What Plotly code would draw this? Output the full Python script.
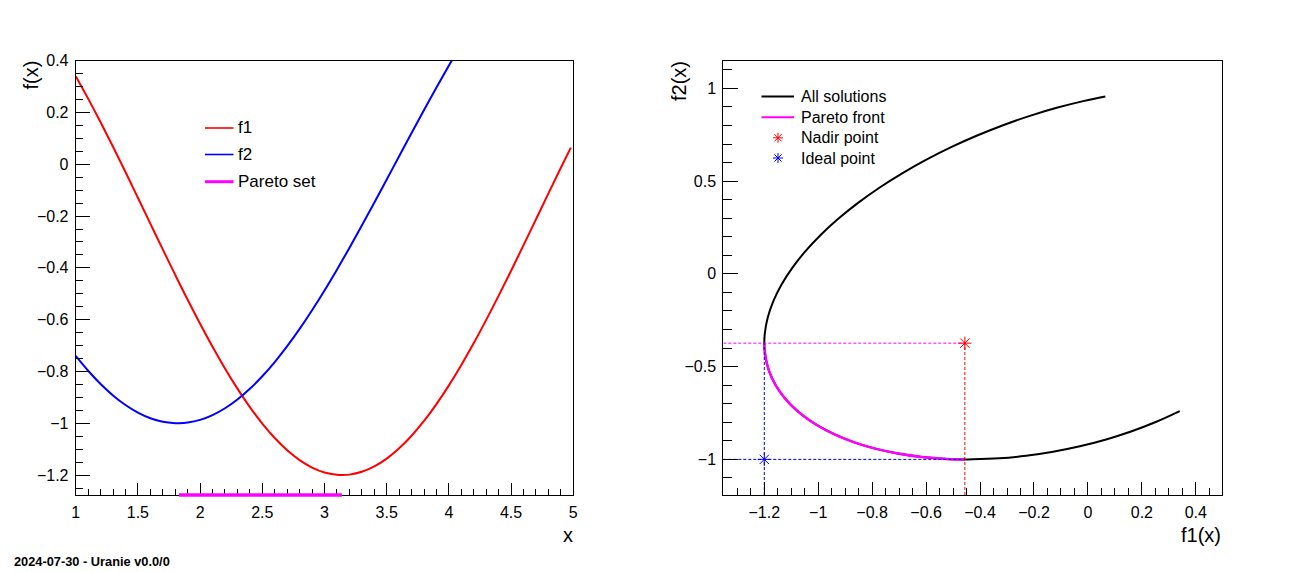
import plotly.graph_objects as go

# ---- data ----
x_vals = [1.0, 1.1, 1.2, 1.3, 1.4, 1.5, 1.6, 1.7, 1.8, 1.83, 1.9, 2.0, 2.1, 2.2, 2.3, 2.4,
          2.5, 2.6, 2.7, 2.8, 2.9, 3.0, 3.1, 3.14, 3.2, 3.3, 3.4, 3.5, 3.6, 3.7, 3.8, 3.9,
          4.0, 4.1, 4.2, 4.3, 4.4, 4.5, 4.6, 4.7, 4.8, 4.9, 4.98]
f1_vals = [0.3403, 0.2536, 0.1624, 0.0675, -0.0300, -0.1293, -0.2292, -0.3288, -0.4272, -0.4563,
           -0.5233, -0.6161, -0.7048, -0.7885, -0.8663, -0.9374, -1.0011, -1.0569, -1.1041, -1.1422,
           -1.1710, -1.1900, -1.1991, -1.2000, -1.1983, -1.1875, -1.1668, -1.1365, -1.0968, -1.0481,
           -0.9910, -0.9259, -0.8536, -0.7748, -0.6903, -0.6008, -0.5073, -0.4108, -0.3122, -0.2124,
           -0.1125, -0.0135, 0.0644]
f2_vals = [-0.7399, -0.7973, -0.8483, -0.8925, -0.9294, -0.9588, -0.9805, -0.9942, -0.9998, -1.0000,
           -0.9974, -0.9869, -0.9684, -0.9421, -0.9081, -0.8668, -0.8185, -0.7636, -0.7025, -0.6357,
           -0.5637, -0.4872, -0.4068, -0.3736, -0.3232, -0.2366, -0.1484, -0.0588, 0.0312, 0.1210,
           0.2098, 0.2967, 0.3812, 0.4630, 0.5405, 0.6143, 0.6829, 0.7457, 0.8026, 0.8531,
           0.8963, 0.9325, 0.9562]

left_legend = ["f1", "f2", "Pareto set"]
right_legend = ["All solutions", "Pareto front", "Nadir point", "Ideal point"]
footer_text = "2024-07-30 - Uranie v0.0/0"

# Pareto set: between the minimum of f2 and the minimum of f1
x_lo = x_vals[f2_vals.index(min(f2_vals))]
x_hi = x_vals[f1_vals.index(min(f1_vals))]
idx = [i for i, x in enumerate(x_vals) if x_lo <= x <= x_hi]
front_f1 = [f1_vals[i] for i in idx]
front_f2 = [f2_vals[i] for i in idx]
nadir = (max(front_f1), max(front_f2))
ideal = (min(front_f1), min(front_f2))

# ---- layout geometry ----
W, H = 1296, 572
FONT = "Liberation Sans, Arial, Helvetica, sans-serif"
xl_range = [1, 5]
yl_range = [-1.277, 0.4]
xr_range = [-1.352, 0.496]
yr_range = [-1.192, 1.149]
dom_y = [1 - 495 / H, 1 - 60.7 / H]
dom_xl = [75.7 / W, 573.3 / W]
dom_xr = [723.3 / W, 1221.7 / W]

fig = go.Figure()

# left panel
fig.add_trace(go.Scatter(x=x_vals, y=f1_vals, mode="lines", line=dict(color="#ff0000", width=2, shape="spline"),
                         xaxis="x", yaxis="y", showlegend=False))
fig.add_trace(go.Scatter(x=x_vals, y=f2_vals, mode="lines", line=dict(color="#0000ff", width=2, shape="spline"),
                         xaxis="x", yaxis="y", showlegend=False))

# right panel
fig.add_trace(go.Scatter(x=f1_vals, y=f2_vals, mode="lines", line=dict(color="black", width=2, shape="spline"),
                         xaxis="x2", yaxis="y2", showlegend=False))
fig.add_trace(go.Scatter(x=front_f1, y=front_f2, mode="lines", line=dict(color="#ff00ff", width=2.5, shape="spline"),
                         xaxis="x2", yaxis="y2", showlegend=False))

dash = "3px,2px"
fig.add_trace(go.Scatter(x=[xr_range[0], nadir[0]], y=[nadir[1], nadir[1]], mode="lines",
                         line=dict(color="#ff00ff", width=1, dash=dash), xaxis="x2", yaxis="y2", showlegend=False))
fig.add_trace(go.Scatter(x=[nadir[0], nadir[0]], y=[yr_range[0], nadir[1]], mode="lines",
                         line=dict(color="#ff0000", width=1, dash=dash), xaxis="x2", yaxis="y2", showlegend=False))
fig.add_trace(go.Scatter(x=[xr_range[0], nadir[0]], y=[ideal[1], ideal[1]], mode="lines",
                         line=dict(color="#0000cc", width=1, dash=dash), xaxis="x2", yaxis="y2", showlegend=False))
fig.add_trace(go.Scatter(x=[ideal[0], ideal[0]], y=[yr_range[0], nadir[1]], mode="lines",
                         line=dict(color="#0000cc", width=1, dash=dash), xaxis="x2", yaxis="y2", showlegend=False))
fig.add_trace(go.Scatter(x=[nadir[0]], y=[nadir[1]], mode="markers",
                         marker=dict(symbol="asterisk-open", size=11, color="#ff0000",
                                     line=dict(color="#ff0000", width=1)),
                         xaxis="x2", yaxis="y2", showlegend=False))
fig.add_trace(go.Scatter(x=[ideal[0]], y=[ideal[1]], mode="markers",
                         marker=dict(symbol="asterisk-open", size=11, color="#0000ff",
                                     line=dict(color="#0000ff", width=1)),
                         xaxis="x2", yaxis="y2", showlegend=False))

shapes = []
# Pareto set bar along the bottom of the left frame
shapes.append(dict(type="line", xref="x", yref="paper", x0=x_lo, x1=x_hi, y0=dom_y[0], y1=dom_y[0],
                   line=dict(color="#ff00ff", width=3.5), layer="above"))

annotations = []
def px(xp):
    return xp / W
def py(yp):
    return 1 - yp / H

# left legend (manual)
left_rows = [128, 154.5, 181.7]
left_cols = ["#ff0000", "#0000ff", "#ff00ff"]
left_w = [1.6, 1.6, 3]
for lab, yy, col, lw in zip(left_legend, left_rows, left_cols, left_w):
    shapes.append(dict(type="line", xref="paper", yref="paper", x0=px(205), x1=px(233.5), y0=py(yy), y1=py(yy),
                       line=dict(color=col, width=lw)))
    annotations.append(dict(text=lab, xref="paper", yref="paper", x=px(236), y=py(yy), xanchor="left",
                            yanchor="middle", showarrow=False, font=dict(family=FONT, size=17, color="black")))

# right legend (manual)
right_rows = [96.5, 117.3, 137.8, 158]
for k, (lab, yy) in enumerate(zip(right_legend, right_rows)):
    if k < 2:
        col = "black" if k == 0 else "#ff00ff"
        shapes.append(dict(type="line", xref="paper", yref="paper", x0=px(761.5), x1=px(794), y0=py(yy), y1=py(yy),
                           line=dict(color=col, width=2)))
    else:
        col = "#ff0000" if k == 2 else "#0000ff"
        shapes.append(dict(type="path", xref="paper", yref="paper", xsizemode="pixel", ysizemode="pixel",
                           xanchor=px(778), yanchor=py(yy),
                           path="M-5,0 L5,0 M0,-5 L0,5 M-3.6,-3.6 L3.6,3.6 M-3.6,3.6 L3.6,-3.6",
                           line=dict(color=col, width=1)))
    annotations.append(dict(text=lab, xref="paper", yref="paper", x=px(799), y=py(yy), xanchor="left",
                            yanchor="middle", showarrow=False, font=dict(family=FONT, size=16, color="black")))

# axis titles
annotations.append(dict(text="f(x)", xref="paper", yref="paper", x=px(31), y=py(59), xanchor="center",
                        yanchor="top", textangle=-90, showarrow=False, font=dict(family=FONT, size=20, color="black")))
annotations.append(dict(text="x", xref="paper", yref="paper", x=px(575), y=py(535), xanchor="right",
                        yanchor="middle", showarrow=False, font=dict(family=FONT, size=20, color="black")))
annotations.append(dict(text="f2(x)", xref="paper", yref="paper", x=px(679), y=py(59), xanchor="center",
                        yanchor="top", textangle=-90, showarrow=False, font=dict(family=FONT, size=20, color="black")))
annotations.append(dict(text="f1(x)", xref="paper", yref="paper", x=px(1223), y=py(535), xanchor="right",
                        yanchor="middle", showarrow=False, font=dict(family=FONT, size=20, color="black")))
annotations.append(dict(text="<b>" + footer_text + "</b>", xref="paper", yref="paper", x=px(12), y=py(561),
                        xanchor="left", yanchor="middle", showarrow=False,
                        font=dict(family=FONT, size=12.8, color="black")))

def axis(rng, dom, dtick, minor_dtick, anchor, ticklen, minorlen, side):
    return dict(range=rng, domain=dom, anchor=anchor, dtick=dtick, tick0=0,
                ticks="inside", ticklen=ticklen, tickwidth=1, tickcolor="black",
                minor=dict(ticks="inside", dtick=minor_dtick, tick0=0, ticklen=minorlen, tickwidth=1, tickcolor="black"),
                showline=True, linecolor="black", linewidth=1, mirror=True,
                showgrid=False, zeroline=False, automargin=False, side=side,
                tickfont=dict(family=FONT, size=16, color="black"), ticklabelstandoff=3)

fig.update_layout(
    width=W, height=H,
    margin=dict(l=0, r=0, t=0, b=0),
    paper_bgcolor="white", plot_bgcolor="white",
    showlegend=False,
    xaxis=axis(xl_range, dom_xl, 0.5, 0.1, "y", 12.5, 6.5, "bottom"),
    yaxis=axis(yl_range, dom_y, 0.2, 0.05, "x", 14.5, 7.3, "left"),
    xaxis2=axis(xr_range, dom_xr, 0.2, 0.05, "y2", 13, 6.7, "bottom"),
    yaxis2=axis(yr_range, dom_y, 0.5, 0.1, "x2", 15, 8.5, "left"),
    shapes=shapes,
    annotations=annotations,
    font=dict(family=FONT, color="black"),
)

fig.write_html("out.html", config={"displayModeBar": False},
               post_script="document.body.style.margin='0px';document.body.style.overflow='hidden';")
